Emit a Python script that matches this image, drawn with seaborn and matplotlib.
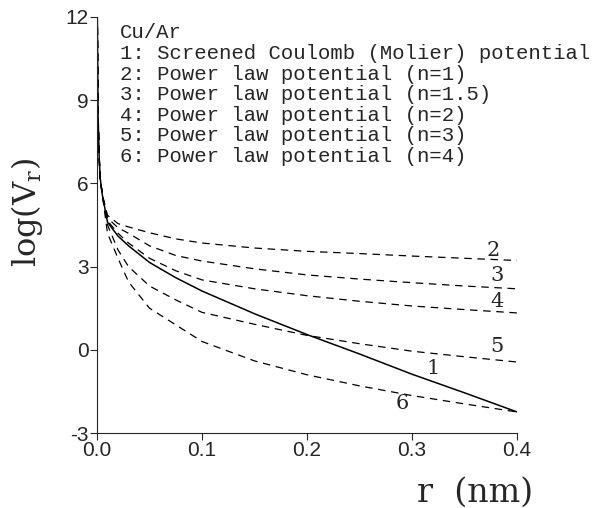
import numpy as np
import pandas as pd
import matplotlib
matplotlib.use("Agg")
import matplotlib.pyplot as plt
import seaborn as sns

# r in nm, log(V_r)
r_nm = [0.0003, 0.001, 0.002, 0.003, 0.005, 0.01, 0.02, 0.03, 0.05, 0.075,
        0.1, 0.15, 0.2, 0.25, 0.3, 0.35, 0.4]
near_axis = [12.1, 8.5, 7.0, 6.2, 5.6]

molier = near_axis + [4.6, 4.1, 3.75, 3.15, 2.6, 2.12, 1.3, 0.55, -0.15, -0.88, -1.55, -2.24]
power_n1 = near_axis + [4.85, 4.55, 4.43, 4.22, 4.0, 3.85, 3.67, 3.55, 3.47, 3.38, 3.3, 3.22]
power_n15 = near_axis + [4.75, 4.4, 4.2, 3.75, 3.4, 3.2, 2.92, 2.7, 2.55, 2.42, 2.3, 2.2]
power_n2 = near_axis + [4.65, 4.2, 3.85, 3.3, 2.85, 2.52, 2.2, 1.95, 1.75, 1.58, 1.45, 1.33]
power_n3 = near_axis + [4.5, 3.6, 3.0, 2.3, 1.8, 1.35, 0.92, 0.52, 0.22, -0.05, -0.25, -0.44]
power_n4 = near_axis + [4.2, 3.3, 2.45, 1.5, 0.9, 0.3, -0.4, -0.9, -1.3, -1.65, -1.95, -2.24]

curve_ids = ["1", "2", "3", "4", "5", "6"]
curve_vals = [molier, power_n1, power_n15, power_n2, power_n3, power_n4]
label_pos = [(0.32, -0.69), (0.377, 3.57), (0.381, 2.67),
             (0.381, 1.73), (0.381, 0.11), (0.291, -1.95)]

legend_lines = [
    "Cu/Ar",
    "1: Screened Coulomb (Molier) potential",
    "2: Power law potential (n=1)",
    "3: Power law potential (n=1.5)",
    "4: Power law potential (n=2)",
    "5: Power law potential (n=3)",
    "6: Power law potential (n=4)",
]

y_ticks = [-3, 0, 3, 6, 9, 12]
x_ticks = [0.0, 0.1, 0.2, 0.3, 0.4]

df = pd.DataFrame({
    "r": r_nm * len(curve_ids),
    "logV": sum(curve_vals, []),
    "curve": np.repeat(curve_ids, len(r_nm)),
})

sns.set_style("ticks")
plt.rcParams["font.family"] = ["Liberation Sans", "DejaVu Sans"]
plt.rcParams["mathtext.fontset"] = "dejavuserif"
plt.rcParams["axes.unicode_minus"] = False

fig = plt.figure(figsize=(5.97, 5.08), dpi=100)
ax = fig.add_axes([0.1625, 0.1476, 0.7035, 0.819])

for cid in curve_ids:
    sub = df[df["curve"] == cid]
    if cid == "1":
        sns.lineplot(data=sub, x="r", y="logV", ax=ax, color="black", lw=1.1,
                     sort=False, estimator=None)
    else:
        sns.lineplot(data=sub, x="r", y="logV", ax=ax, color="black", lw=0.9,
                     sort=False, estimator=None, linestyle=(0, (6, 4.5)))

for cid, (px, py) in zip(curve_ids, label_pos):
    ax.text(px, py, cid, fontsize=15, family="DejaVu Serif", ha="center", va="center")

ax.text(0.055, 0.985, "\n".join(legend_lines), transform=ax.transAxes,
        fontsize=14.9, family="Liberation Mono", va="top", ha="left", linespacing=1.11)

ax.set_xlim(0, 0.4)
ax.set_ylim(-3, 12)
ax.set_xticks(x_ticks)
ax.set_yticks(y_ticks)
ax.set_xticklabels([f"{t:.1f}" for t in x_ticks])
ax.tick_params(direction="out", length=5, width=0.8, labelsize=15, pad=1)
sns.despine(ax=ax)
ax.set_xlabel("")
ax.set_ylabel("")
fig.text(27 / 597, 1 - 212 / 508, r"$\mathrm{log(V_r)}$", fontsize=23,
         rotation=90, ha="center", va="center")
fig.text(0.893, 1 - 493 / 508, "r  (nm)", fontsize=24, family="DejaVu Serif",
         ha="right", va="center")

fig.savefig("out.png", dpi=100)
